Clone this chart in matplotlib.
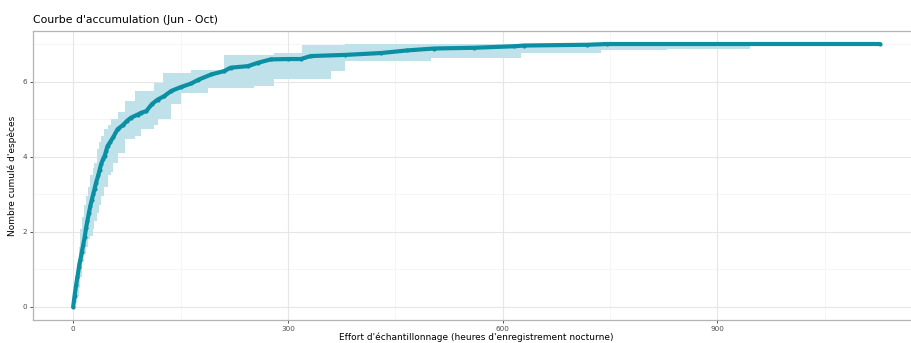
import matplotlib
matplotlib.use("Agg")
import matplotlib.pyplot as plt

# === mean accumulation curve ===
effort = [0, 2, 4, 6, 8, 10, 12, 14, 16, 18, 20, 22, 24, 26, 28, 30, 32, 35, 37, 39,
          42, 44, 46, 48, 52, 56, 62, 70, 75, 81, 90, 95, 102, 110, 118, 127, 137, 150,
          165, 175, 193, 211, 220, 244, 258, 276, 300, 318, 332, 380, 430, 467, 504,
          560, 616, 630, 718, 746, 1127]
richness = [0, 0.3, 0.57, 0.8, 1.05, 1.25, 1.45, 1.65, 1.85, 2.1, 2.3, 2.5, 2.69, 2.85,
            3.0, 3.15, 3.31, 3.5, 3.65, 3.8, 3.95, 4.02, 4.15, 4.28, 4.4, 4.52, 4.73,
            4.85, 4.95, 5.04, 5.12, 5.17, 5.21, 5.4, 5.52, 5.61, 5.75, 5.85, 5.95, 6.05,
            6.19, 6.28, 6.37, 6.41, 6.5, 6.59, 6.6, 6.6, 6.68, 6.71, 6.76, 6.83, 6.88,
            6.9, 6.94, 6.96, 6.98, 7.0, 7.0]

# === confidence band (step) ===
band_x = [0, 3, 5.6, 8, 10.2, 12.6, 15, 18, 21, 24, 27.4, 29.8, 33, 36, 39, 43.7, 48,
          53, 55, 62, 72, 86, 95, 113, 118, 125, 137, 151, 165, 188, 211, 253, 281, 320,
          360, 380, 500, 625, 737, 830, 946, 1127]
band_low = [0, 0.1, 0.3, 0.5, 0.8, 1.19, 1.4, 1.6, 1.8, 1.9, 2.07, 2.3, 2.5, 2.7, 2.96,
            3.2, 3.5, 3.6, 3.84, 4.1, 4.46, 4.55, 4.73, 4.85, 4.99, 4.99, 5.39, 5.7, 5.7,
            5.84, 5.84, 5.88, 6.06, 6.06, 6.28, 6.54, 6.63, 6.75, 6.83, 6.87, 7.0, 7.0]
band_high = [0.3, 0.7, 1.19, 1.6, 2.07, 2.4, 2.7, 2.96, 3.2, 3.5, 3.7, 3.84, 4.2, 4.4,
             4.55, 4.73, 4.85, 4.99, 4.99, 5.2, 5.48, 5.75, 5.75, 5.97, 5.97, 6.23, 6.23,
             6.23, 6.32, 6.32, 6.72, 6.72, 6.76, 6.98, 6.98, 7.0, 7.0, 7.0, 7.0, 7.0,
             7.0, 7.0]

x_ticks = [0, 300, 600, 900]
y_ticks = [0, 2, 4, 6]

line_col = "#0a8fa3"
band_col = "#bfe2ea"

fig = plt.figure(figsize=(9.12, 3.43), dpi=100)
ax = fig.add_axes([0.036, 0.067, 0.973, 0.843])

# grid like theme_bw
for v in [150, 450, 750, 1050]:
    ax.axvline(v, color="#f2f2f2", lw=0.5, zorder=0)
for v in [1, 3, 5, 7]:
    ax.axhline(v, color="#f2f2f2", lw=0.5, zorder=0)
for v in x_ticks:
    ax.axvline(v, color="#e6e6e6", lw=0.8, zorder=0)
for v in y_ticks:
    ax.axhline(v, color="#e6e6e6", lw=0.8, zorder=0)

ax.fill_between(band_x, band_low, band_high, step="post", color=band_col, lw=0, zorder=1)
ax.plot(effort, richness, color=line_col, lw=3.0, solid_capstyle="round",
        solid_joinstyle="round", zorder=2)
ax.plot(effort, richness, "o", color=line_col, ms=3.0, mew=0, zorder=3)

ax.set_xlim(-56.35, 1183.35)
ax.set_ylim(-0.35, 7.35)
ax.set_xticks(x_ticks)
ax.set_yticks(y_ticks)
ax.tick_params(labelsize=5.2, labelcolor="#4d4d4d", color="#333333", length=2.5, width=0.6, pad=1.5)

for s in ax.spines.values():
    s.set_color("#b3b3b3")
    s.set_linewidth(0.9)

ax.set_xlabel("Effort d'échantillonnage (heures d'enregistrement nocturne)", fontsize=6.5, labelpad=0.5)
ax.set_ylabel("Nombre cumulé d'espèces", fontsize=6.5, labelpad=4)
fig.text(0.036, 0.928, "Courbe d'accumulation (Jun - Oct)", fontsize=7.8, ha="left", va="bottom")

fig.savefig("out.png", dpi=100)
